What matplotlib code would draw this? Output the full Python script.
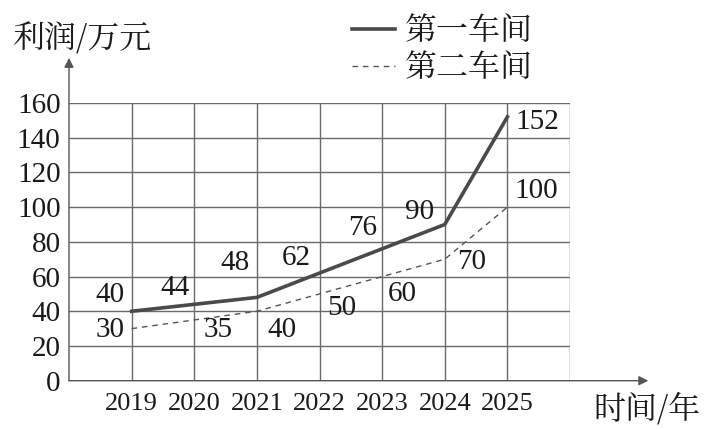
import matplotlib
matplotlib.use("Agg")
import matplotlib.pyplot as plt

plt.rcParams['font.family'] = ['Liberation Serif', 'Noto Serif CJK SC', 'Noto Sans CJK SC',
                               'DejaVu Sans']

years = ['2019', '2020', '2021', '2022', '2023', '2024', '2025']
ws1 = [40, 44, 48, 62, 76, 90, 152]
ws2 = [30, 35, 40, 50, 60, 70, 100]
yticks = [0, 20, 40, 60, 80, 100, 120, 140, 160]

# label offsets in pixels (dx, dy) from each point
off1 = [(-22, 16), (-19, 16), (-22, 34), (-23, 15), (-19, 21), (-25, 12), (30, -5)]
off2 = [(-22, -1), (24, -10), (25, -19), (22, -14), (20, -17), (27, -3), (29, 16)]

W, H = 706, 429
fig = plt.figure(figsize=(W / 100, H / 100), dpi=100)
ax = fig.add_axes([69 / W, (H - 380.7) / H, 501 / W, 277.7 / H])

xs = list(range(1, len(years) + 1))
ax.set_xlim(0, 8)
ax.set_ylim(0, 160)

gcol = '#6a6a6a'
for x in range(1, 9):
    ax.axvline(x, color=gcol, lw=1.0, zorder=1)
for y in yticks[1:]:
    ax.axhline(y, color=gcol, lw=1.0, zorder=1)

for s in ax.spines.values():
    s.set_visible(False)

# axes with arrows
ax.annotate('', xy=(9.25, 0), xytext=(0, 0), xycoords='data',
            arrowprops=dict(arrowstyle='-|>', color='#555555', lw=1.0,
                            mutation_scale=14, shrinkA=0, shrinkB=0),
            annotation_clip=False)
ax.annotate('', xy=(0, 186), xytext=(0, 0), xycoords='data',
            arrowprops=dict(arrowstyle='-|>', color='#555555', lw=1.0,
                            mutation_scale=14, shrinkA=0, shrinkB=0),
            annotation_clip=False)

l1, = ax.plot(xs, ws1, color='#4a4a4a', lw=2.6, zorder=3, label='第一车间')
l2, = ax.plot(xs, ws2, color='#555555', lw=1.0, ls=(0, (4, 3.5)), zorder=3, label='第二车间')

for x, v, (dx, dy) in zip(xs, ws1, off1):
    ax.annotate(str(v), (x, v), xytext=(dx * 0.72, dy * 0.72), textcoords='offset points',
                ha='center', va='center', fontsize=21, color='#1a1a1a', zorder=4)
for x, v, (dx, dy) in zip(xs, ws2, off2):
    ax.annotate(str(v), (x, v), xytext=(dx * 0.72, dy * 0.72), textcoords='offset points',
                ha='center', va='center', fontsize=21, color='#1a1a1a', zorder=4)

ax.set_xticks(xs)
ax.set_xticklabels(years, fontsize=19, color='#1a1a1a')
ax.set_yticks(yticks)
ax.set_yticklabels([str(v) for v in yticks], fontsize=21, color='#1a1a1a')
ax.tick_params(axis='both', length=0)
ax.tick_params(axis='x', pad=9)
ax.tick_params(axis='y', pad=6)

cjk = ['Noto Serif CJK SC', 'Noto Sans CJK SC', 'DejaVu Sans']
fig.text(12 / W, 1 - 40 / H, '利润/万元', family=cjk, fontsize=23, color='#1a1a1a',
         ha='left', va='center')
fig.text(593 / W, 1 - 410 / H, '时间/年', family=cjk, fontsize=23, color='#1a1a1a',
         ha='left', va='center')

leg = ax.legend(handles=[l1, l2], loc='upper left', bbox_to_anchor=(352 / W, 1 - 14 / H),
                bbox_transform=fig.transFigure, frameon=False, borderpad=0,
                borderaxespad=0, handlelength=1.35, handletextpad=0.3,
                labelspacing=0.1, prop={'family': cjk, 'size': 23})
for t in leg.get_texts():
    t.set_color('#1a1a1a')

fig.savefig('out.png', dpi=100)
